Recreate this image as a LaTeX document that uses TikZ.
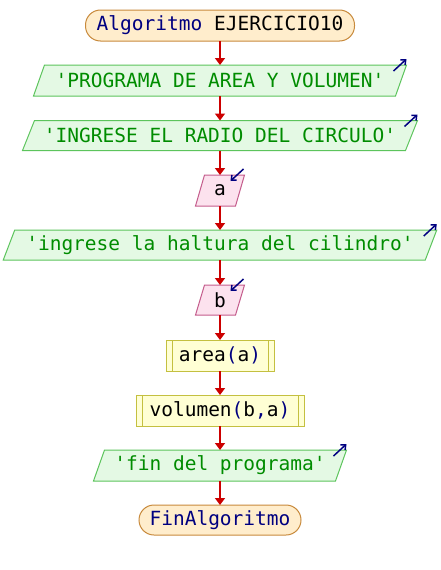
\documentclass[tikz,border=0pt]{standalone}
\usepackage{fontspec}
\setmonofont{DejaVu Sans Mono}
\usetikzlibrary{arrows.meta,calc}
\definecolor{kw}{HTML}{000080}
\definecolor{str}{HTML}{008C00}
\definecolor{flow}{HTML}{CC0000}
\definecolor{termfill}{HTML}{FFEDCC}
\definecolor{termdraw}{HTML}{C88A3C}
\definecolor{outfill}{HTML}{E4F9E4}
\definecolor{outdraw}{HTML}{5CC45C}
\definecolor{infill}{HTML}{FCE2EE}
\definecolor{indraw}{HTML}{C45C8C}
\definecolor{procfill}{HTML}{FFFFD4}
\definecolor{procdraw}{HTML}{C4C040}
\tikzset{
  base/.style={inner sep=0pt, outer sep=0pt, font=\ttfamily\fontsize{19.5}{22}\selectfont},
  term/.style={base, draw=termdraw, fill=termfill, line width=1pt, rounded corners=15pt},
  io/.style={base, draw=none},
  proc/.style={base, draw=procdraw, fill=procfill, line width=1pt},
  outshape/.style={draw=outdraw, fill=outfill, line width=1pt},
  inshape/.style={draw=indraw, fill=infill, line width=1pt},
  flowarrow/.style={draw=flow, line width=2.6pt, -{Triangle[width=10pt,length=7pt]}},
  icon/.style={draw=kw, line width=1.5pt, -{Straight Barb[width=7pt,length=4pt]}},
}
\newcommand{\paral}[3]{% node, slant, style
  \path[#3] ($(#1.north west)+(#2/2,0)$) -- ($(#1.north east)+(#2/2,0)$)
    -- ($(#1.south east)-(#2/2,0)$) -- ($(#1.south west)-(#2/2,0)$) -- cycle;}
\newcommand{\outicon}[2]{% node, slant
  \draw[icon] ($(#1.north east)+(#2/2,0)+(-13,6)$) -- ($(#1.north east)+(#2/2,0)+(0,-6)$);}
\newcommand{\inicon}[2]{%
  \draw[icon] ($(#1.north east)+(#2/2,0)+(-1,-6)$) -- ($(#1.north east)+(#2/2,0)+(-14,6)$);}
\begin{document}
\begin{tikzpicture}[x=1pt,y=-1pt]
\useasboundingbox[fill=white] (0,0) rectangle (440,570);
% nodes
\node[term, minimum width=269pt, minimum height=31pt] (start) at (220,25.5)
  {\textcolor{kw}{Algoritmo} EJERCICIO10};
\node[io, minimum width=362pt, minimum height=31pt] (o1) at (220,80.5) {};
\node[io, minimum width=383pt, minimum height=30pt] (o2) at (220,135.5) {};
\node[io, minimum width=40pt, minimum height=31pt] (a) at (220,190.5) {};
\node[io, minimum width=422pt, minimum height=30pt] (o3) at (220,245) {};
\node[io, minimum width=40pt, minimum height=30pt] (b) at (220,300) {};
\node[proc, minimum width=108pt, minimum height=31pt] (area) at (220,355.5) {};
\node[proc, minimum width=168pt, minimum height=31pt] (vol) at (220,410.5) {};
\node[io, minimum width=242pt, minimum height=31pt] (o4) at (220,465.5) {};
\node[term, minimum width=162pt, minimum height=30pt] (fin) at (220,520)
  {\textcolor{kw}{FinAlgoritmo}};
% shapes
\paral{o1}{11}{outshape}
\paral{o2}{12}{outshape}
\paral{a}{9}{inshape}
\paral{o3}{11.5}{outshape}
\paral{b}{9}{inshape}
\paral{o4}{11}{outshape}
\draw[procdraw, line width=1pt] ($(area.north west)+(6,0)$) -- ($(area.south west)+(6,0)$)
  ($(area.north east)-(6,0)$) -- ($(area.south east)-(6,0)$);
\draw[procdraw, line width=1pt] ($(vol.north west)+(6,0)$) -- ($(vol.south west)+(6,0)$)
  ($(vol.north east)-(6,0)$) -- ($(vol.south east)-(6,0)$);
% texts
\node[base, text=str] at (o1) {'PROGRAMA DE AREA Y VOLUMEN'};
\node[base, text=str] at (o2) {'INGRESE EL RADIO DEL CIRCULO'};
\node[base] at (a) {a};
\node[base, text=str] at (o3) {'ingrese la haltura del cilindro'};
\node[base] at (b) {b};
\node[base] at (area) {area\textcolor{kw}{(}a\textcolor{kw}{)}};
\node[base] at (vol) {volumen\textcolor{kw}{(}b\textcolor{kw}{,}a\textcolor{kw}{)}};
\node[base, text=str] at (o4) {'fin del programa'};
% icons
\outicon{o1}{11}
\outicon{o2}{12}
\inicon{a}{9}
\outicon{o3}{11.5}
\inicon{b}{9}
\outicon{o4}{11}
% connectors
\draw[flowarrow] (start.south) -- (o1.north);
\draw[flowarrow] (o1.south) -- (o2.north);
\draw[flowarrow] (o2.south) -- (a.north);
\draw[flowarrow] (a.south) -- (o3.north);
\draw[flowarrow] (o3.south) -- (b.north);
\draw[flowarrow] (b.south) -- (area.north);
\draw[flowarrow] (area.south) -- (vol.north);
\draw[flowarrow] (vol.south) -- (o4.north);
\draw[flowarrow] (o4.south) -- (fin.north);
\end{tikzpicture}
\end{document}
